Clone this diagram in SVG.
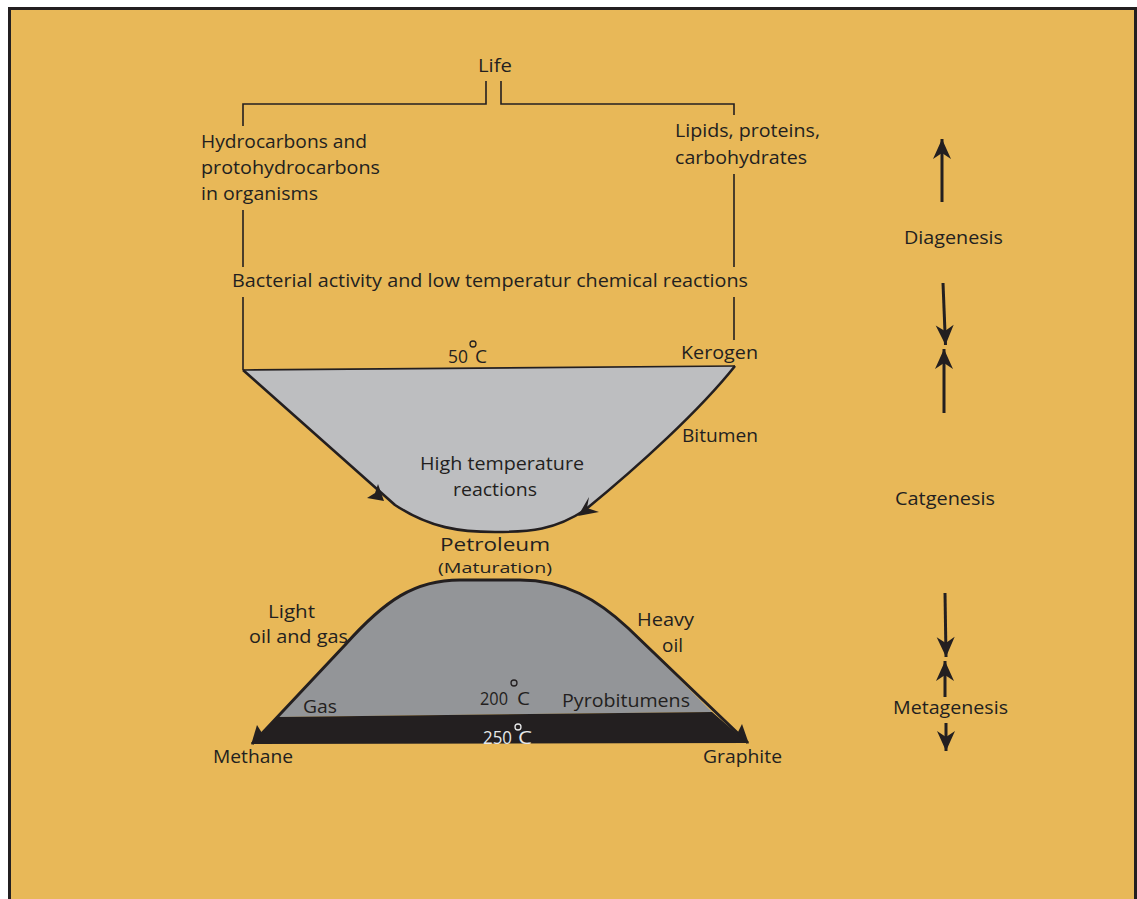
<svg xmlns="http://www.w3.org/2000/svg" width="1137" height="899" viewBox="0 0 1137 899">
<defs>
<style>
.t{font-family:"Open Sans","Noto Sans","DejaVu Sans",sans-serif;font-size:18px;fill:#231f20}
.w{fill:#e6e7e8}
.ln{stroke:#231f20;stroke-width:1.6;fill:none}
.thick{stroke:#231f20;stroke-width:2.6;fill:none;stroke-linejoin:round}
.arr{stroke:#231f20;stroke-width:3;fill:none;marker-end:url(#ah)}
.deg{fill:none;stroke:#231f20;stroke-width:1.3}
</style>
<marker id="ah" markerUnits="userSpaceOnUse" markerWidth="24" markerHeight="24" viewBox="-22 -11 24 22" refX="0" refY="0" orient="auto">
<path d="M0 0 L-20 -9 L-14 0 L-20 9 Z" fill="#231f20"/>
</marker>
</defs>
<rect x="0" y="0" width="1137" height="899" fill="#ffffff"/>
<rect x="9.5" y="8.5" width="1126" height="900" fill="#e8b858" stroke="#231f20" stroke-width="3"/>

<g id="connectors">
<path class="ln" d="M486 81 V104 H243 V126"/>
<path class="ln" d="M501 81 V104 H734 V115"/>
<path class="ln" d="M243 210 V267"/>
<path class="ln" d="M734 174 V267"/>
<path class="ln" d="M243 297 V370"/>
<path class="ln" d="M734 297 V340"/>
<path class="arr" d="M942 202 V139"/>
<path class="arr" d="M943 283 L945.5 345"/>
<path class="arr" d="M944 413 V349"/>
<path class="arr" d="M945 593 L946 657"/>
<path class="arr" d="M945 697 V661"/>
<path class="arr" d="M946 723 V751"/>
</g>

<g id="upper-bowl">
<path d="M243 370 L735 366 C700 410 640 465 585 510 C555 530 530 532 495 532 C460 532 430 528 395 505 Z" fill="#bdbec0"/>
<path d="M243 370 L735 366" stroke="#231f20" stroke-width="1.6" fill="none"/>
<path class="thick" d="M243 370 L395 505 C430 528 460 532 495 532 C530 532 555 530 585 510 C640 465 700 410 735 366"/>
<polygon points="384,501 367,498 375,493 378,484" fill="#231f20"/>
<polygon points="578,516 599,512 587,508 589,497" fill="#231f20"/>
</g>

<g id="lower-mound">
<path d="M278 717 L345 645 C385 600 415 580 460 580 L520 580 C565 580 598 600 628 628 L712 712 Z" fill="#939598"/>
<polygon points="252,744 278,717 712,712 748,743" fill="#231f20"/>
<path d="M252 744 L345 645 C385 600 415 580 460 580 L520 580 C565 580 598 600 628 628 L703 700 L748 743" stroke="#231f20" stroke-width="3" fill="none" stroke-linejoin="round"/>
<polygon points="251,745 257,725 262,733" fill="#231f20"/>
<polygon points="749,744 742,724 737.5,733" fill="#231f20"/>
</g>

<g id="life"><text class="t" x="478" y="72" textLength="34" lengthAdjust="spacingAndGlyphs">Life</text></g>
<g id="hydrocarbons">
<text class="t" x="201" y="148" textLength="166" lengthAdjust="spacingAndGlyphs">Hydrocarbons and</text>
<text class="t" x="201" y="174" textLength="179" lengthAdjust="spacingAndGlyphs">protohydrocarbons</text>
<text class="t" x="201" y="200" textLength="117" lengthAdjust="spacingAndGlyphs">in organisms</text>
</g>
<g id="lipids">
<text class="t" x="675" y="137" textLength="145" lengthAdjust="spacingAndGlyphs">Lipids, proteins,</text>
<text class="t" x="675" y="164" textLength="132" lengthAdjust="spacingAndGlyphs">carbohydrates</text>
</g>
<g id="bacterial"><text class="t" x="232" y="287" textLength="516" lengthAdjust="spacingAndGlyphs">Bacterial activity and low temperatur chemical reactions</text></g>
<g id="temp50">
<text class="t" x="448" y="363" textLength="20" lengthAdjust="spacingAndGlyphs">50</text>
<circle class="deg" cx="473" cy="344" r="3"/>
<text class="t" x="475" y="363" textLength="12" lengthAdjust="spacingAndGlyphs">C</text>
</g>
<g id="kerogen"><text class="t" x="681" y="359" textLength="77" lengthAdjust="spacingAndGlyphs">Kerogen</text></g>
<g id="bitumen"><text class="t" x="682" y="442" textLength="76" lengthAdjust="spacingAndGlyphs">Bitumen</text></g>
<g id="high-temp">
<text class="t" x="420" y="470" textLength="164" lengthAdjust="spacingAndGlyphs">High temperature</text>
<text class="t" x="453" y="496" textLength="84" lengthAdjust="spacingAndGlyphs">reactions</text>
</g>
<g id="petroleum">
<text class="t" x="440" y="551" style="font-size:19px" textLength="110" lengthAdjust="spacingAndGlyphs">Petroleum</text>
<text class="t" x="438" y="573" style="font-size:15px" textLength="114" lengthAdjust="spacingAndGlyphs">(Maturation)</text>
</g>
<g id="light-oil">
<text class="t" x="268" y="618" textLength="47" lengthAdjust="spacingAndGlyphs">Light</text>
<text class="t" x="249" y="643" textLength="99" lengthAdjust="spacingAndGlyphs">oil and gas</text>
</g>
<g id="heavy-oil">
<text class="t" x="637" y="626" textLength="57" lengthAdjust="spacingAndGlyphs">Heavy</text>
<text class="t" x="662" y="652" textLength="21" lengthAdjust="spacingAndGlyphs">oil</text>
</g>
<g id="gas"><text class="t" x="303" y="713" textLength="34" lengthAdjust="spacingAndGlyphs">Gas</text></g>
<g id="temp200">
<text class="t" x="480" y="705" textLength="28" lengthAdjust="spacingAndGlyphs">200</text>
<circle class="deg" cx="514" cy="683" r="3"/>
<text class="t" x="517" y="705" textLength="13" lengthAdjust="spacingAndGlyphs">C</text>
</g>
<g id="pyrobitumens"><text class="t" x="562" y="707" textLength="128" lengthAdjust="spacingAndGlyphs">Pyrobitumens</text></g>
<g id="temp250">
<text class="t w" x="483" y="744" textLength="29" lengthAdjust="spacingAndGlyphs">250</text>
<circle cx="518" cy="727" r="3" fill="none" stroke="#e6e7e8" stroke-width="1.3"/>
<text class="t w" x="518" y="744" textLength="14" lengthAdjust="spacingAndGlyphs">C</text>
</g>
<g id="methane"><text class="t" x="213" y="763" textLength="80" lengthAdjust="spacingAndGlyphs">Methane</text></g>
<g id="graphite"><text class="t" x="703" y="763" textLength="79" lengthAdjust="spacingAndGlyphs">Graphite</text></g>
<g id="diagenesis"><text class="t" x="904" y="244" textLength="99" lengthAdjust="spacingAndGlyphs">Diagenesis</text></g>
<g id="catgenesis"><text class="t" x="895" y="505" textLength="100" lengthAdjust="spacingAndGlyphs">Catgenesis</text></g>
<g id="metagenesis"><text class="t" x="893" y="714" textLength="115" lengthAdjust="spacingAndGlyphs">Metagenesis</text></g>
</svg>
